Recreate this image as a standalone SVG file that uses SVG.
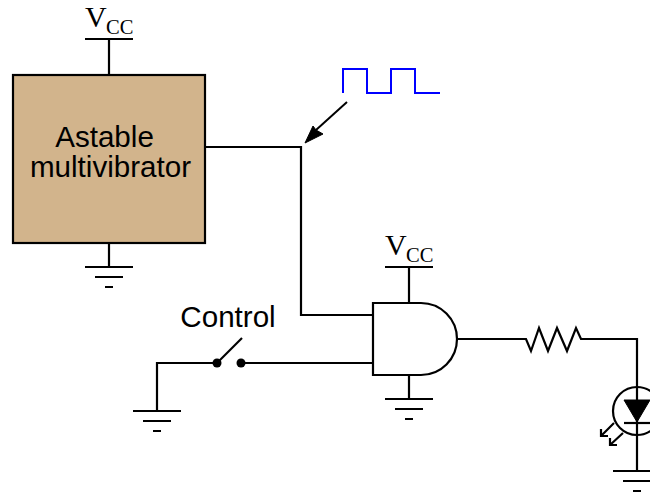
<svg xmlns="http://www.w3.org/2000/svg" width="650" height="495" viewBox="0 0 650 495">
<style>
.w{fill:none;stroke:#000;stroke-width:2.2}
.s{font-family:"Liberation Sans",Arial,sans-serif;font-size:29.6px;fill:#000}
.v{font-family:"Liberation Serif","Times New Roman",serif;font-size:30px;fill:#000}
.c{font-family:"Liberation Serif","Times New Roman",serif;font-size:20.5px;fill:#000}
</style>
<defs>
<g id="gnd"><path class="w" d="M-24 0H24M-14 10H14M-4 20H4"/></g>
<g id="vcc"><text class="v" x="-24" y="-12">V</text><text class="c" x="-3" y="-5">CC</text><path class="w" d="M-24 0H24"/></g>
</defs>
<rect width="650" height="495" fill="#fff"/>
<g id="connectors">
<path class="w" d="M109 39V75M109 243V267M205 147H301V315H373"/>
<path class="w" d="M409 267V303M409 375V399M157 411V363H217M241 363H373"/>
<path class="w" d="M217 363L242 338"/>
<path class="w" d="M457 339H526L531 351L539 328L548 351L557 328L567 351L576 328L581 339H637V471"/>
<path d="M347 102L316 130" fill="none" stroke="#000" stroke-width="2"/>
<path d="M305 143L313 126L316 130L323 134Z" fill="#000" stroke="#000"/>
</g>
<g id="multivibrator">
<rect x="13" y="75" width="192" height="168" fill="#d2b48c" stroke="#000" stroke-width="2.2"/>
<text class="s" x="104.500" y="147" text-anchor="middle">Astable</text>
<text class="s" x="110.500" y="177" text-anchor="middle">multivibrator</text>
</g>
<g id="vcc1"><use href="#vcc" x="109" y="39"/></g>
<g id="gnd1"><use href="#gnd" x="109" y="267"/></g>
<g id="pulse"><path d="M343 93V69H367V93H391V69H415V93H440" fill="none" stroke="#0000ff" stroke-width="2"/></g>
<g id="and-gate"><path class="w" d="M373 303H421A36 36 0 0 1 421 375H373Z"/></g>
<g id="vcc2"><use href="#vcc" x="409" y="267"/></g>
<g id="gnd2"><use href="#gnd" x="409" y="399"/></g>
<g id="switch">
<circle cx="217" cy="363" r="4.500" fill="#000"/>
<circle cx="241" cy="363" r="4.500" fill="#000"/>
<text class="s" x="228" y="327" text-anchor="middle">Control</text>
</g>
<g id="gnd3"><use href="#gnd" x="157" y="411"/></g>
<g id="led">
<circle class="w" cx="637" cy="411" r="24"/>
<path d="M624 400H650L637 422Z" fill="#000" stroke="#000"/>
<path class="w" d="M624 423H650"/>
<path class="w" d="M614 423L601 436M601 429V436H608M623 433L610 445M610 438V445H617"/>
</g>
<g id="gnd4"><use href="#gnd" x="637" y="471"/></g>
</svg>
